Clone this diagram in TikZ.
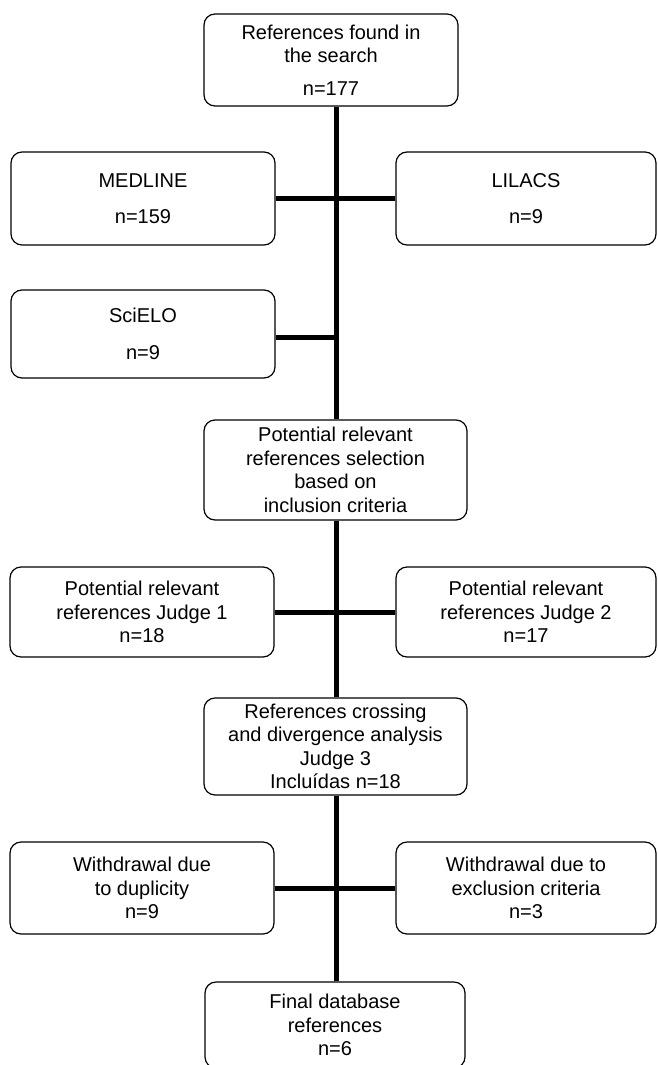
\documentclass[tikz,border=0pt]{standalone}
\usepackage{fontspec}
\setmainfont{Liberation Sans}
\usepackage{tikz}
\usetikzlibrary{calc}

\begin{document}
\begin{tikzpicture}[x=1pt,y=-1pt,
  box/.style={draw,line width=1.2pt,rounded corners=11pt,fill=white,align=center,
    inner sep=0pt,font=\fontsize{20}{23.5}\selectfont},
  link/.style={line width=5pt}]
\useasboundingbox (0,0) rectangle (657,1065);
\coordinate (trunk) at (336,0);
\node[box,minimum width=254,minimum height=92] (found) at (331,60) {References found in\\the search\\[9pt]n=177};
\node[box,minimum width=264,minimum height=93] (medline) at (143,198.5) {MEDLINE\\[13pt]n=159};
\node[box,minimum width=260,minimum height=93] (lilacs) at (526,198.5) {LILACS\\[13pt]n=9};
\node[box,minimum width=264,minimum height=88] (scielo) at (143,334) {SciELO\\[13pt]n=9};
\node[box,minimum width=263,minimum height=100] (select) at (335.5,470) {Potential relevant\\references selection\\based on\\inclusion criteria};
\node[box,minimum width=264,minimum height=90] (judgeA) at (142,612) {Potential relevant\\references Judge 1\\n=18};
\node[box,minimum width=260,minimum height=90] (judgeB) at (526,612) {Potential relevant\\references Judge 2\\n=17};
\node[box,minimum width=263,minimum height=97] (cross) at (335.5,746.5) {References crossing\\and divergence analysis\\Judge 3\\Incluídas n=18};
\node[box,minimum width=264,minimum height=92] (dupl) at (142,888) {Withdrawal due\\to duplicity\\n=9};
\node[box,minimum width=260,minimum height=92] (excl) at (526,888) {Withdrawal due to\\exclusion criteria\\n=3};
\node[box,minimum width=260,minimum height=86] (final) at (335,1025) {Final database\\references\\n=6};
\draw[link] (found.south -| trunk) -- (select.north -| trunk);
\draw[link] (select.south -| trunk) -- (cross.north -| trunk);
\draw[link] (cross.south -| trunk) -- (final.north -| trunk);
\draw[link] (medline.east) -- (lilacs.west);
\draw[link] ($(scielo.east)+(0,3)$) -- ($(scielo.east -| trunk)+(0,3)$);
\draw[link] (judgeA.east) -- (judgeB.west);
\draw[link] (dupl.east) -- (excl.west);
\end{tikzpicture}
\end{document}
